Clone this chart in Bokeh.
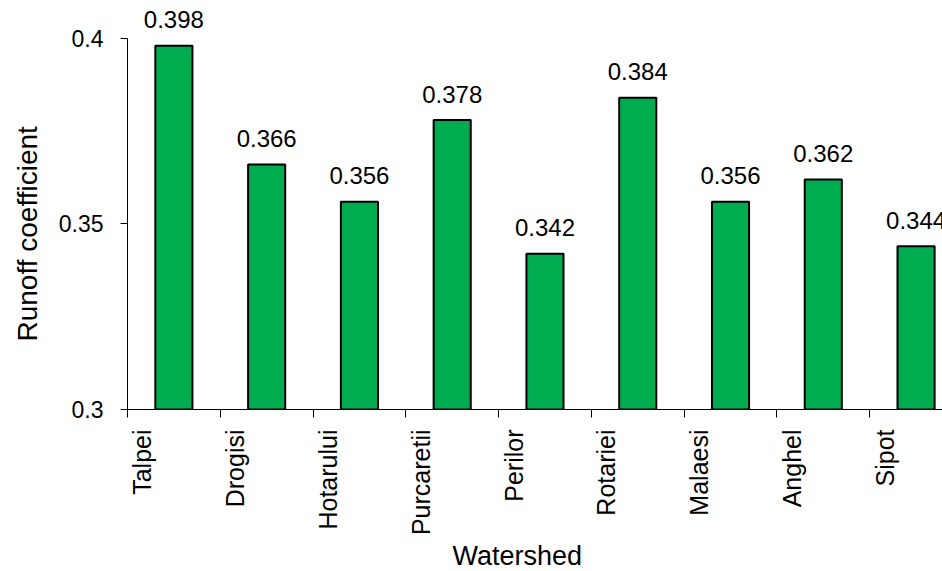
from math import pi
from bokeh.plotting import figure
from bokeh.models import Range1d, FixedTicker, ColumnDataSource, LinearAxis, Title
from bokeh.core.properties import value
from bokeh.embed import file_html
from bokeh.resources import INLINE

# Runoff coefficient per watershed
watersheds = ["Talpei", "Drogisi", "Hotarului", "Purcaretii", "Perilor",
              "Rotariei", "Malaesi", "Anghel", "Sipot"]
runoff = [0.398, 0.366, 0.356, 0.378, 0.342, 0.384, 0.356, 0.362, 0.344]
y_ticks = [0.3, 0.35, 0.4]

FONT = "Liberation Sans"
GREEN = "#00AC50"
NAME_SHIFT = 0.161  # category names sit just right of each boundary tick

n = len(watersheds)
centers = [i + 0.5 for i in range(n)]
boundaries = list(range(n + 1))
name_pos = [i + NAME_SHIFT for i in range(n)]

src = ColumnDataSource(dict(
    x=centers, top=runoff,
    lbl=[f"{v:.3f}" for v in runoff],
))

p = figure(width=942, height=571, output_backend="svg", toolbar_location=None,
           x_range=Range1d(0, 8.785), y_range=Range1d(0.3, 0.41022),
           min_border_left=125, min_border_right=0, min_border_top=0,
           min_border_bottom=161)
p.outline_line_color = None
p.xgrid.visible = False
p.ygrid.visible = False
p.background_fill_color = "white"
p.border_fill_color = "white"

# bars
p.vbar(x="x", width=0.4, bottom=0.3, top="top", source=src,
       fill_color=GREEN, line_color="black", line_width=2)

# value labels above bars
p.text(x="x", y="top", text="lbl", source=src,
       text_font=value(FONT), text_font_size="24px", text_color="black",
       text_align="center", text_baseline="alphabetic", y_offset=-26)

# y axis
ya = p.yaxis[0]
ya.ticker = FixedTicker(ticks=y_ticks)
ya.bounds = (0.3, 0.4)
ya.major_tick_out = 7
ya.major_tick_in = 0
ya.minor_tick_line_color = None
ya.major_label_standoff = 17
ya.major_label_text_font = FONT
ya.major_label_text_font_size = "23px"
ya.major_label_text_color = "black"
ya.axis_line_color = "black"
ya.major_tick_line_color = "black"

p.add_layout(Title(text="Runoff coefficient", align="left", offset=68,
                   vertical_align="top",
                   text_font=FONT, text_font_size="28px",
                   text_font_style="normal", text_color="black",
                   standoff=22), "left")

# x axis line with tick marks at category boundaries
xa = p.xaxis[0]
xa.ticker = FixedTicker(ticks=boundaries)
xa.major_label_overrides = {b: "" for b in boundaries}
xa.major_label_text_font_size = "1px"
xa.major_label_standoff = 0
xa.major_tick_out = 8
xa.major_tick_in = 0
xa.minor_tick_line_color = None
xa.axis_line_color = "black"
xa.major_tick_line_color = "black"

# category names, written vertically
names_axis = LinearAxis(ticker=FixedTicker(ticks=name_pos),
                        major_label_overrides={pos: name for pos, name in zip(name_pos, watersheds)},
                        major_label_orientation=pi / 2,
                        major_label_standoff=12,
                        major_label_text_font=FONT,
                        major_label_text_font_size="25px",
                        major_label_text_color="black",
                        axis_line_color=None, major_tick_line_color=None,
                        minor_tick_line_color=None,
                        major_tick_out=0, major_tick_in=0)
p.add_layout(names_axis, "below")

p.add_layout(Title(text="Watershed", align="left", offset=325,
                   text_font=FONT, text_font_size="27px",
                   text_font_style="normal", text_color="black",
                   standoff=1), "below")

open("out.html", "w").write(file_html(p, INLINE))
